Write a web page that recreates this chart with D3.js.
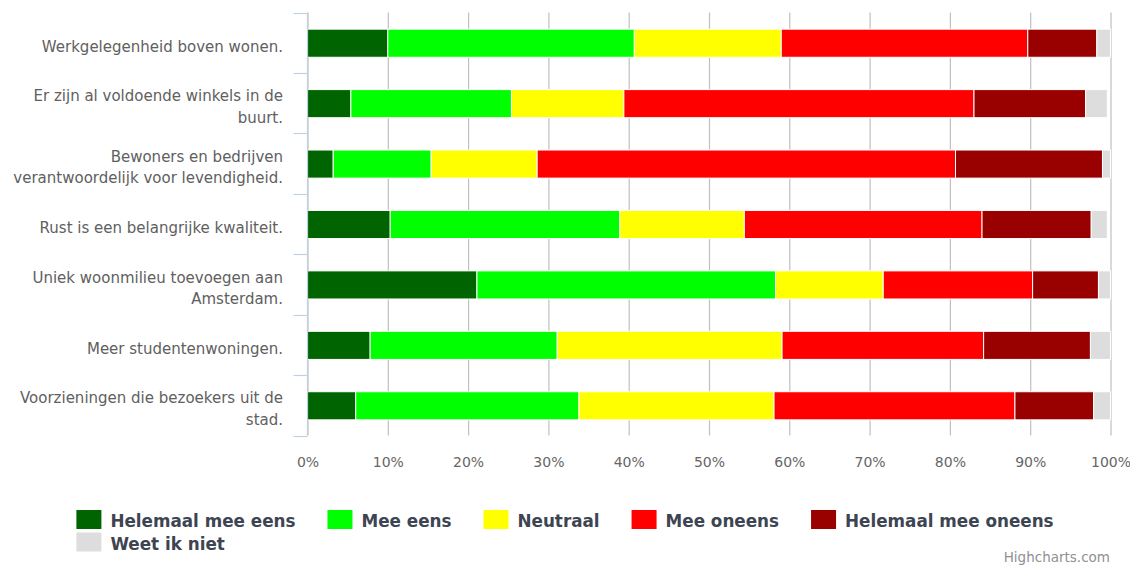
<!DOCTYPE html>
<html>
<head>
<meta charset="utf-8">
<script src="https://cdn.jsdelivr.net/npm/d3@7/dist/d3.min.js"></script>
<style>
  html, body { margin: 0; padding: 0; background: #fff; }
  svg { display: block; }
</style>
</head>
<body>
<svg id="chart" width="1130" height="565"></svg>
<script>
// Statements (one horizontal stacked bar each)
const categories = [
  "Werkgelegenheid boven wonen.",
  "Er zijn al voldoende winkels in de buurt.",
  "Bewoners en bedrijven verantwoordelijk voor levendigheid.",
  "Rust is een belangrijke kwaliteit.",
  "Uniek woonmilieu toevoegen aan Amsterdam.",
  "Meer studentenwoningen.",
  "Voorzieningen die bezoekers uit de stad."
];

// Answer categories, in stacking order
const seriesNames = [
  "Helemaal mee eens",
  "Mee eens",
  "Neutraal",
  "Mee oneens",
  "Helemaal mee oneens",
  "Weet ik niet"
];

// Percentage of respondents per answer, one value per statement
const helemaalMeeEens   = [10.0,  5.4,  3.2, 10.3, 21.1,  7.8,  6.0];
const meeEens           = [30.7, 20.0, 12.2, 28.6, 37.2, 23.3, 27.8];
const neutraal          = [18.3, 14.0, 13.2, 15.5, 13.4, 28.0, 24.3];
const meeOneens         = [30.7, 43.6, 52.1, 29.6, 18.6, 25.1, 30.0];
const helemaalMeeOneens = [ 8.6, 13.9, 18.3, 13.6,  8.2, 13.3,  9.8];
const weetIkNiet        = [ 1.7,  2.7,  1.0,  2.0,  1.5,  2.5,  2.1];

// Value axis ticks
const xTicks = [0, 10, 20, 30, 40, 50, 60, 70, 80, 90, 100];

const seriesValues = [helemaalMeeEens, meeEens, neutraal, meeOneens, helemaalMeeOneens, weetIkNiet];

// Build a row-per-statement table for d3.stack
const table = categories.map((c, i) => {
  const row = { category: c };
  seriesNames.forEach((s, j) => { row[s] = seriesValues[j][i]; });
  return row;
});

const svg = d3.select("#chart");
const W = 1130;

const plot = { left: 307.5, right: 1110.5, top: 12.5, bottom: 435.5 };

const x = d3.scaleLinear().domain([0, 100]).range([plot.left, plot.right]);
const y = d3.scaleBand().domain(categories).range([plot.top, plot.bottom]).padding(0);

const color = d3.scaleOrdinal()
  .domain(seriesNames)
  .range(["#006400", "#00ff00", "#ffff00", "#ff0000", "#990000", "#dddddd"]);

// Vertical grid lines
const gridAxis = d3.axisBottom(x)
  .tickValues(xTicks)
  .tickSize(-(plot.bottom - plot.top))
  .tickFormat("");
const grid = svg.append("g")
  .attr("transform", `translate(0,${plot.bottom})`)
  .call(gridAxis);
grid.select(".domain").remove();
grid.selectAll("line").attr("stroke", "#c0c0c0").attr("stroke-width", 1.2);

// Stacked bars
svg.append("clipPath").attr("id", "plotClip")
  .append("rect")
  .attr("x", plot.left).attr("y", plot.top - 5)
  .attr("width", plot.right - plot.left + 1).attr("height", plot.bottom - plot.top + 10);

const stacked = d3.stack().keys(seriesNames)(table);
const barH = y.bandwidth() * 0.465;

svg.append("g").attr("clip-path", "url(#plotClip)")
  .selectAll("g")
  .data(stacked)
  .join("g")
  .attr("fill", d => color(d.key))
  .selectAll("rect")
  .data(d => d)
  .join("rect")
  .attr("x", d => x(d[0]))
  .attr("width", d => Math.max(0, x(d[1]) - x(d[0])))
  .attr("y", d => y(d.data.category) + y.bandwidth() / 2 - barH / 2 + 0.5)
  .attr("height", barH)
  .attr("stroke", "#ffffff")
  .attr("stroke-width", 1);

// Category axis line and tick marks at band boundaries
const axisColor = "#c0d0e0";
svg.append("line")
  .attr("x1", plot.left).attr("x2", plot.left)
  .attr("y1", plot.top).attr("y2", plot.bottom)
  .attr("stroke", axisColor).attr("stroke-width", 1.2);

const boundaries = categories.map(c => y(c)).concat([y.range()[1]]);
svg.append("g").selectAll("line")
  .data(boundaries)
  .join("line")
  .attr("x1", plot.left - 14).attr("x2", plot.left)
  .attr("y1", d => Math.round(d) + 0.5).attr("y2", d => Math.round(d) + 0.5)
  .attr("stroke", axisColor).attr("stroke-width", 1.2);

// Value axis labels
const xAxis = d3.axisBottom(x)
  .tickValues(xTicks)
  .tickSize(0)
  .tickPadding(0)
  .tickFormat(d => d + "%");
const xg = svg.append("g")
  .attr("transform", `translate(0,${plot.bottom})`)
  .call(xAxis);
xg.select(".domain").remove();
xg.selectAll("text")
  .attr("dy", null)
  .attr("y", 31)
  .attr("fill", "#666666")
  .style("font-family", "'DejaVu Sans', sans-serif")
  .style("font-size", "14px");

// Category labels, word-wrapped and right-aligned
const labelFont = "'DejaVu Sans', sans-serif";
const labelSize = 15;
const lineH = 21.6;
const maxLabelW = 290;

const measurer = svg.append("text")
  .style("font-family", labelFont).style("font-size", labelSize + "px")
  .attr("visibility", "hidden");
function textWidth(s) { measurer.text(s); return measurer.node().getComputedTextLength(); }
function wrap(s) {
  const words = s.split(" ");
  const lines = [];
  let cur = "";
  words.forEach(w => {
    const t = cur ? cur + " " + w : w;
    if (cur && textWidth(t) > maxLabelW) { lines.push(cur); cur = w; }
    else cur = t;
  });
  if (cur) lines.push(cur);
  return lines;
}

const labels = svg.append("g");
categories.forEach(c => {
  const lines = wrap(c);
  const cy = y(c) + y.bandwidth() / 2;
  const first = cy + 9 - (lines.length - 1) * lineH / 2;
  const t = labels.append("text")
    .attr("text-anchor", "end")
    .attr("fill", "#606060")
    .style("font-family", labelFont)
    .style("font-size", labelSize + "px");
  lines.forEach((ln, k) => {
    t.append("tspan").attr("x", 283).attr("y", first + k * lineH).text(ln);
  });
});
measurer.remove();

// Legend: horizontal, wrapping, centered as a block
const legendFont = "'DejaVu Sans', sans-serif";
const symW = 25, symH = 19, symGap = 9, itemGap = 32, rowH = 22.5, maxRowW = 1060;
const legend = svg.append("g");
const items = seriesNames.map(name => {
  const g = legend.append("g");
  g.append("rect").attr("width", symW).attr("height", symH).attr("y", -17).attr("fill", color(name));
  const txt = g.append("text")
    .attr("x", symW + symGap)
    .attr("fill", "#3d4452")
    .style("font-family", legendFont)
    .style("font-size", "16.8px")
    .style("font-weight", "bold")
    .text(name);
  return { g, w: symW + symGap + txt.node().getComputedTextLength() };
});
const rows = [[]];
let rowW = 0;
items.forEach(it => {
  const add = (rows[rows.length - 1].length ? itemGap : 0) + it.w;
  if (rows[rows.length - 1].length && rowW + add > maxRowW) { rows.push([it]); rowW = it.w; }
  else { rows[rows.length - 1].push(it); rowW += add; }
});
const rowWidths = rows.map(r => d3.sum(r, it => it.w) + itemGap * (r.length - 1));
const legendLeft = (W - d3.max(rowWidths)) / 2;
rows.forEach((r, ri) => {
  let cx = legendLeft;
  r.forEach(it => {
    it.g.attr("transform", `translate(${cx},${527 + ri * rowH})`);
    cx += it.w + itemGap;
  });
});

// Credits
svg.append("text")
  .attr("x", 1110).attr("y", 562)
  .attr("text-anchor", "end")
  .attr("fill", "#909090")
  .style("font-family", "'DejaVu Sans', sans-serif")
  .style("font-size", "13.5px")
  .text("Highcharts.com");
</script>
</body>
</html>
